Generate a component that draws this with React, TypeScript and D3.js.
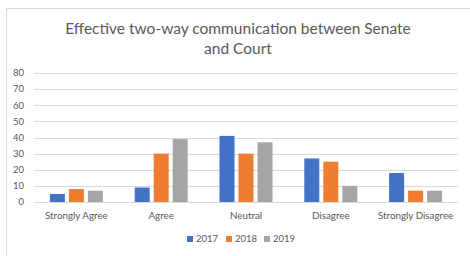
import { useEffect, useRef } from "react";
import * as d3 from "d3";

const categories = ["Strongly Agree", "Agree", "Neutral", "Disagree", "Strongly Disagree"];
const years = ["2017", "2018", "2019"];
const values2017 = [5, 9, 41, 27, 18];
const values2018 = [8, 30, 30, 25, 7];
const values2019 = [7, 39, 37, 10, 7];
const yTicks = [0, 10, 20, 30, 40, 50, 60, 70, 80];
const colors = ["#4472C4", "#ED7D31", "#A5A5A5"];

const W = 470;
const H = 256;
const FONT = "Lato, 'Open Sans', sans-serif";

const App = () => {
  const svgRef = useRef<SVGSVGElement>(null);

  useEffect(() => {
    const svg = d3.select(svgRef.current);
    svg.selectAll("*").remove();

    const series = [values2017, values2018, values2019];
    const left = 34;
    const right = 458;
    const top = 73;
    const bottom = 202;

    // chart frame
    svg
      .append("rect")
      .attr("x", 6.5)
      .attr("y", 8.5)
      .attr("width", W + 20)
      .attr("height", H + 20)
      .attr("fill", "#fff")
      .attr("stroke", "#D9D9D9");

    // title
    const title = svg
      .append("text")
      .attr("text-anchor", "middle")
      .attr("fill", "#595959")
      .style("font-family", FONT)
      .style("font-size", "15.5px");
    title.append("tspan").attr("x", 238).attr("y", 34).text("Effective two-way communication between Senate");
    title.append("tspan").attr("x", 238).attr("y", 54).text("and Court");

    const x0 = d3.scaleBand().domain(categories).range([left, right]).paddingInner(0).paddingOuter(0);
    const y = d3.scaleLinear().domain([0, 80]).range([bottom, top]);

    const groupW = 15 * 3 + 4 * 2;
    const x1 = d3
      .scaleBand()
      .domain(years)
      .range([(x0.bandwidth() - groupW) / 2, (x0.bandwidth() + groupW) / 2])
      .paddingInner(0.21);

    // gridlines
    svg
      .append("g")
      .selectAll("line")
      .data(yTicks)
      .join("line")
      .attr("x1", left)
      .attr("x2", right)
      .attr("y1", (d) => Math.round(y(d)) + 0.5)
      .attr("y2", (d) => Math.round(y(d)) + 0.5)
      .attr("stroke", "#D9D9D9")
      .attr("stroke-width", 1);

    // y labels
    svg
      .append("g")
      .selectAll("text")
      .data(yTicks)
      .join("text")
      .attr("x", 24)
      .attr("y", (d) => y(d))
      .attr("dy", "0.35em")
      .attr("text-anchor", "end")
      .attr("fill", "#595959")
      .style("font-family", FONT)
      .style("font-size", "9.5px")
      .text((d) => d);

    // bars
    const groups = svg
      .append("g")
      .selectAll("g")
      .data(categories)
      .join("g")
      .attr("transform", (d) => `translate(${x0(d)},0)`);

    groups
      .selectAll("rect")
      .data((_, i) => years.map((yr, s) => ({ yr, s, v: series[s][i] })))
      .join("rect")
      .attr("x", (d) => x1(d.yr)!)
      .attr("width", x1.bandwidth())
      .attr("y", (d) => y(d.v))
      .attr("height", (d) => y(0) - y(d.v))
      .attr("fill", (d) => colors[d.s]);

    // category labels
    svg
      .append("g")
      .selectAll("text")
      .data(categories)
      .join("text")
      .attr("x", (d) => x0(d)! + x0.bandwidth() / 2)
      .attr("y", 219)
      .attr("text-anchor", "middle")
      .attr("fill", "#595959")
      .style("font-family", FONT)
      .style("font-size", "9.8px")
      .text((d) => d);

    // legend
    const legendX = [187, 226, 264];
    const legend = svg
      .append("g")
      .selectAll("g")
      .data(years)
      .join("g")
      .attr("transform", (_, i) => `translate(${legendX[i]},239)`);
    legend
      .append("rect")
      .attr("x", 0)
      .attr("y", -3)
      .attr("width", 6)
      .attr("height", 6)
      .attr("fill", (_, i) => colors[i]);
    legend
      .append("text")
      .attr("x", 9)
      .attr("y", 0)
      .attr("dy", "0.35em")
      .attr("fill", "#595959")
      .style("font-family", FONT)
      .style("font-size", "9.5px")
      .text((d) => d);
  }, []);

  return (
    <svg
      ref={svgRef}
      width={W}
      height={H}
      style={{ position: "absolute", left: 0, top: 0, background: "#fff" }}
    />
  );
};

export default App;
